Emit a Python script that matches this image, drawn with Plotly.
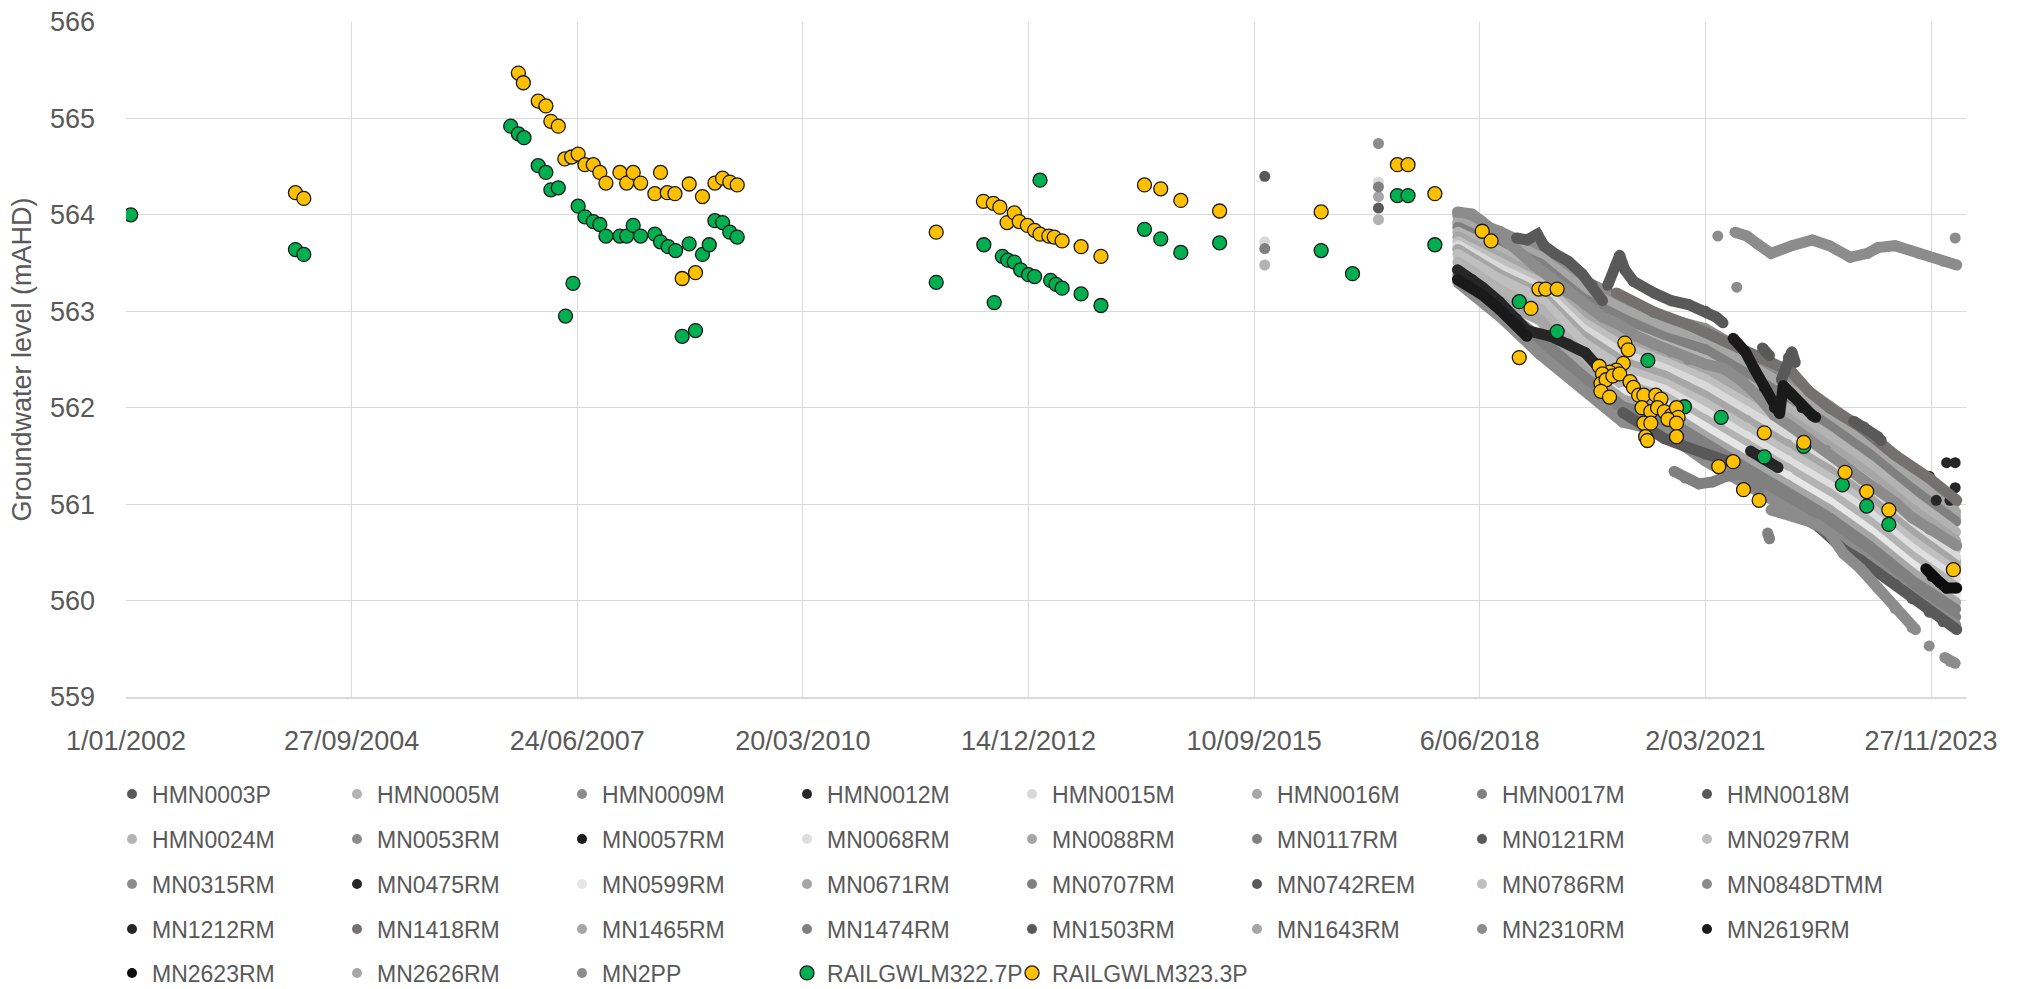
import plotly.graph_objects as go

FONT = "Liberation Sans, Arial, sans-serif"
TXT = "#595959"

# x values are Excel date serials (days since 1899-12-30), as on the original date axis
X_TICKS = [37257, 38257, 39257, 40257, 41257, 42257, 43257, 44257, 45257]
X_TICK_LABELS = ["1/01/2002", "27/09/2004", "24/06/2007", "20/03/2010", "14/12/2012",
                 "10/09/2015", "6/06/2018", "2/03/2021", "27/11/2023"]
Y_TICKS = [559, 560, 561, 562, 563, 564, 565, 566]

SERIES_NAMES = ["HMN0003P", "HMN0005M", "HMN0009M", "HMN0012M", "HMN0015M", "HMN0016M", "HMN0017M", "HMN0018M",
                "HMN0024M", "MN0053RM", "MN0057RM", "MN0068RM", "MN0088RM", "MN0117RM", "MN0121RM", "MN0297RM",
                "MN0315RM", "MN0475RM", "MN0599RM", "MN0671RM", "MN0707RM", "MN0742REM", "MN0786RM", "MN0848DTMM",
                "MN1212RM", "MN1418RM", "MN1465RM", "MN1474RM", "MN1503RM", "MN1643RM", "MN2310RM", "MN2619RM",
                "MN2623RM", "MN2626RM", "MN2PP", "RAILGWLM322.7P", "RAILGWLM323.3P"]

COLORS = {
    "HMN0003P": "#595959", "HMN0005M": "#b3b3b3", "HMN0009M": "#8c8c8c", "HMN0012M": "#262626",
    "HMN0015M": "#d9d9d9", "HMN0016M": "#a6a6a6", "HMN0017M": "#808080", "HMN0018M": "#595959",
    "HMN0024M": "#b3b3b3", "MN0053RM": "#8c8c8c", "MN0057RM": "#1a1a1a", "MN0068RM": "#dedede",
    "MN0088RM": "#a6a6a6", "MN0117RM": "#808080", "MN0121RM": "#595959", "MN0297RM": "#bfbfbf",
    "MN0315RM": "#8c8c8c", "MN0475RM": "#262626", "MN0599RM": "#e6e6e6", "MN0671RM": "#a6a6a6",
    "MN0707RM": "#808080", "MN0742REM": "#595959", "MN0786RM": "#bfbfbf", "MN0848DTMM": "#8c8c8c",
    "MN1212RM": "#262626", "MN1418RM": "#767171", "MN1465RM": "#a6a6a6", "MN1474RM": "#808080",
    "MN1503RM": "#595959", "MN1643RM": "#a6a6a6", "MN2310RM": "#8c8c8c", "MN2619RM": "#1a1a1a",
    "MN2623RM": "#0d0d0d", "MN2626RM": "#a6a6a6", "MN2PP": "#8c8c8c",
    "RAILGWLM322.7P": "#00b050", "RAILGWLM323.3P": "#ffc000",
}

# ---- logger series (dense records shown as bands) ----
LANE_DATES = [43160, 43344, 43525, 43709, 43891, 44075, 44256, 44440, 44621, 44805, 44986, 45170, 45366]
LATE_DATES = [43891, 44075, 44256, 44440, 44621, 44805, 44986, 45170, 45366]

MN0053RM_Y = [563.99, 563.83, 563.63, 563.33, 563.12, 562.93, 562.82, 562.57, 562.32, 562.02, 561.72, 561.37, 561.02]
HMN0016M_Y = [563.93, 563.76, 563.56, 563.24, 563.02, 562.83, 562.71, 562.46, 562.21, 561.92, 561.62, 561.27, 560.92]
MN1465RM_Y = [563.90, 563.72, 563.52, 563.19, 562.97, 562.78, 562.65, 562.40, 562.15, 561.86, 561.56, 561.21, 560.87]
MN0117RM_Y = [563.87, 563.69, 563.49, 563.14, 562.92, 562.73, 562.60, 562.35, 562.10, 561.81, 561.51, 561.16, 560.82]
HMN0005M_Y = [563.82, 563.62, 563.42, 563.05, 562.81, 562.64, 562.49, 562.24, 561.99, 561.70, 561.40, 561.05, 560.71]
MN0088RM_Y = [563.77, 563.55, 563.35, 562.97, 562.72, 562.55, 562.39, 562.14, 561.89, 561.60, 561.30, 560.95, 560.62]
MN0297RM_Y = [563.72, 563.49, 563.29, 562.89, 562.63, 562.47, 562.29, 562.04, 561.79, 561.51, 561.21, 560.86, 560.53]
HMN0015M_Y = [563.68, 563.44, 563.24, 562.82, 562.55, 562.40, 562.21, 561.96, 561.71, 561.43, 561.13, 560.78, 560.45]
MN2626RM_Y = [563.66, 563.41, 563.21, 562.79, 562.51, 562.36, 562.16, 561.91, 561.66, 561.39, 561.09, 560.74, 560.41]
MN0671RM_Y = [563.64, 563.38, 563.18, 562.75, 562.47, 562.33, 562.12, 561.87, 561.62, 561.35, 561.05, 560.70, 560.37]
MN0786RM_Y = [563.59, 563.33, 563.13, 562.68, 562.40, 562.25, 562.04, 561.79, 561.54, 561.27, 560.97, 560.62, 560.30]
MN0068RM_Y = [562.32, 562.18, 561.95, 561.70, 561.45, 561.19, 560.89, 560.54, 560.22]
HMN0024M_Y = [563.51, 563.22, 563.02, 562.55, 562.24, 562.11, 561.87, 561.62, 561.37, 561.11, 560.81, 560.46, 560.14]
MN0599RM_Y = [562.16, 562.04, 561.79, 561.54, 561.29, 561.02, 560.72, 560.37, 560.06]
MN1643RM_Y = [563.43, 563.11, 562.91, 562.41, 562.08, 561.97, 561.70, 561.45, 561.20, 560.94, 560.64, 560.29, 559.98]
HMN0017M_Y = [563.38, 563.06, 562.72, 562.34, 562.01, 561.89, 561.62, 561.37, 561.12, 560.86, 560.56, 560.21, 559.91]
MN1474RM_Y = [563.34, 563.00, 562.63, 562.27, 561.93, 561.82, 561.53, 561.28, 561.03, 560.78, 560.48, 560.13, 559.83]
MN0315RM_Y = [563.30, 562.95, 562.55, 562.20, 561.85, 561.75, 561.45, 561.20, 560.95, 560.70, 560.40, 560.05, 559.75]

# early manual readings of some HMN bores (2015, 2017)
HMN0015M_EARLY_X = [42304, None, 42808, None]
HMN0015M_EARLY_Y = [563.72, None, 564.34, None]
HMN0017M_EARLY_X = [42304, None, 42808, None]
HMN0017M_EARLY_Y = [563.65, None, 564.29, None]
HMN0005M_EARLY_X = [42304, None]
HMN0005M_EARLY_Y = [563.48, None]
HMN0016M_EARLY_X = [42808, None]
HMN0016M_EARLY_Y = [564.19, None]
HMN0024M_EARLY_X = [42808, None]
HMN0024M_EARLY_Y = [563.95, None]

HMN0003P_X = [44762, 44823, 44868, 44945, 45021, 45097, 45173, 45249, 45310, 45371]
HMN0003P_Y = [560.76, 560.64, 560.53, 560.42, 560.29, 560.17, 560.02, 559.88, 559.78, 559.70]

HMN0009M_X = [42808, None, 43158, 43222, 43268, 43344, 43420, 43496, 43573, 43649, 43725, 43801, 43877, 43954,
              44030, 44106, 44182, 44258, 44335, 44411, 44487, 44563, 44640, 44716, 44792, 44868, 44945, 45021,
              45097, 45173, 45249, 45371]
HMN0009M_Y = [564.74, None, 564.03, 564.01, 563.93, 563.80, 563.64, 563.48, 563.35, 563.19, 563.07, 562.94, 562.86,
              562.74, 562.66, 562.58, 562.50, 562.45, 562.41, 562.29, 562.13, 561.92, 561.80, 561.68, 561.56, 561.41,
              561.27, 561.15, 561.02, 560.86, 560.74, 560.57]

HMN0012M_X = [43158, 43222, 43268, 43344, 43420, 43466, 43573, 43649, 43725, 43771, 43815]
HMN0012M_Y = [563.43, 563.33, 563.25, 563.10, 562.92, 562.80, 562.74, 562.66, 562.57, 562.45, 562.38]

MN0057RM_X = [43158, 43205, 43268, 43344, 43420, 43466]
MN0057RM_Y = [563.33, 563.27, 563.17, 563.02, 562.86, 562.74]

HMN0018M_X = [42304, None, 42808, None, 43420, 43466, 43512, 43542, 43588, 43649, 43710, 43755, 43801]
HMN0018M_Y = [564.40, None, 564.07, None, 563.76, 563.74, 563.80, 563.68, 563.60, 563.52, 563.39, 563.27, 563.11]

MN0121RM_X = [43824, 43862, 43877, 43900, 43938, 44030, 44106, 44182, 44258, 44304, 44335]
MN0121RM_Y = [563.27, 563.48, 563.58, 563.43, 563.31, 563.19, 563.11, 563.07, 563.00, 562.94, 562.88]

MN0475RM_X = [44457, 44499, 44538, 44579]
MN0475RM_Y = [561.55, 561.50, 561.44, 561.38]

MN0707RM_X = [44118, 44167, 44228, 44289, 44350, 44411, 44457, 44495, None, 44533, 44541]
MN0707RM_Y = [561.34, 561.27, 561.21, 561.23, 561.29, 561.31, 561.27, 561.15, None, 560.70, 560.64]

MN0742REM_X = [43891, 43983, 44075, 44166, 44256, 44348]
MN0742REM_Y = [561.95, 561.80, 561.68, 561.60, 561.52, 561.45]

MN0848DTMM_X = [44312, None, 44396, None, 44388, 44441, 44487, 44548, 44640, 44731, 44807, 44899, 44975, 45021,
                45097, 45204, 45310, 45371, None, 45364]
MN0848DTMM_Y = [563.78, None, 563.25, None, 563.82, 563.78, 563.70, 563.60, 563.68, 563.74, 563.68, 563.56, 563.60,
                563.66, 563.68, 563.60, 563.52, 563.48, None, 563.76]

MN1212RM_X = [45249, None, 45326, None, 45364, None, 45280, None, 45341, None, 45364]
MN1212RM_Y = [561.29, None, 561.43, None, 561.43, None, 561.04, None, 561.04, None, 561.17]

MN1418RM_X = [43862, 44030, 44182, 44335, 44487, 44640, 44716, 44807, 44945, 45097, 45249, 45371]
MN1418RM_Y = [563.19, 562.99, 562.86, 562.70, 562.54, 562.37, 562.17, 562.00, 561.80, 561.51, 561.27, 561.04]

MN1503RM_X = [44510, 44541, None, 44594, 44609, 44625, 44640, 44655, None, 44914, 44960, 45021, 45036]
MN1503RM_Y = [562.62, 562.54, None, 562.29, 562.37, 562.52, 562.58, 562.47, None, 561.86, 561.80, 561.70, 561.66]

MN2310RM_X = [45249, None, 45318, 45341, 45364]
MN2310RM_Y = [559.53, None, 559.41, 559.37, 559.35]

MN2619RM_X = [44380, 44434, 44472, 44518, 44563, 44586, 44602, 44640, 44685, 44731, 44746]
MN2619RM_Y = [562.72, 562.58, 562.41, 562.21, 562.00, 561.94, 562.23, 562.13, 562.00, 561.92, 561.90]

MN2623RM_X = [45234, 45261, 45295, 45326, 45371, None, 45356]
MN2623RM_Y = [560.33, 560.25, 560.19, 560.13, 560.13, None, 560.31]

MN2PP_X = [44548, 44609, 44685, 44746, 44807, 44868, 44945, 45021, 45097, 45173, 45188]
MN2PP_Y = [560.94, 560.90, 560.86, 560.80, 560.70, 560.49, 560.33, 560.13, 559.92, 559.72, 559.70]

# ---- manual dips (railway monitoring bores) ----
RAIL227_X = [37278, 38008, 38045,
             38962, 38996, 39021, 39084, 39118, 39140, 39173, 39205, 39238, 39261, 39291, 39328, 39357, 39384,
             39446, 39476, 39505, 39538, 39601, 39626, 39660, 39693, 39722, 39753, 39781, 39812, 39842, 39867,
             39901, 39933, 39966,
             40848, 41059, 41105, 41141, 41165, 41194, 41222, 41257, 41284, 41308, 41355, 41379, 41406, 41490,
             41578, 41771, 41843, 41932, 42104, 42554, 42693, 42892, 42939, 43058,
             43432, 43600, 44002, 44164, 44327, 44518, 44693, 44864, 44972, 45070]
RAIL227_Y = [564.00, 563.64, 563.59,
             564.92, 564.84, 564.80, 564.51, 564.44, 564.26, 564.28, 562.95, 563.29, 564.09, 563.98, 563.93, 563.90,
             563.78, 563.78, 563.78, 563.89, 563.78, 563.80, 563.72, 563.67, 563.63, 562.74, 563.70, 562.80, 563.59,
             563.69, 563.94, 563.92, 563.82, 563.77,
             563.30, 563.69, 563.09, 563.57, 563.53, 563.51, 563.43, 563.38, 563.36, 564.36, 563.32, 563.28, 563.24,
             563.18, 563.06, 563.85, 563.75, 563.61, 563.71, 563.63, 563.39, 564.20, 564.20, 563.69,
             563.10, 562.79, 562.49, 562.01, 561.90, 561.49, 561.60, 561.20, 560.98, 560.79]

RAIL233_X = [38008, 38045,
             38996, 39018, 39084, 39118, 39140, 39173, 39202, 39232, 39261, 39291, 39328, 39357, 39384, 39446,
             39476, 39505, 39538, 39601, 39626, 39656, 39690, 39722, 39753, 39781, 39812, 39867, 39901, 39933, 39966,
             40848, 41057, 41101, 41130, 41162, 41194, 41216, 41252, 41284, 41308, 41347, 41371, 41406, 41490,
             41578, 41771, 41843, 41932, 42104, 42554, 42892, 42939, 43058,
             43268, 43307, 43432, 43484, 43519, 43549, 43600,
             43900, 43915, 43893, 43862, 43832, 43786, 43801, 43794, 43817, 43847, 43877, 43794, 43832, 43923,
             43938, 43961, 43984, 43976, 44015, 43984, 44015, 43992, 44000, 44037, 44060, 44045, 44075, 44106,
             44129, 44136, 44091, 44129, 44129,
             44316, 44380, 44426, 44495, 44518, 44693, 44876, 44972, 45070, 45356]
RAIL233_Y = [564.23, 564.17,
             565.47, 565.37, 565.18, 565.13, 564.97, 564.92, 564.58, 564.60, 564.63, 564.52, 564.52, 564.44, 564.33,
             564.44, 564.33, 564.44, 564.33, 564.22, 564.44, 564.23, 564.22, 563.34, 564.32, 563.40, 564.19, 564.33,
             564.38, 564.34, 564.31,
             563.82, 564.14, 564.12, 564.08, 563.92, 564.02, 563.93, 563.89, 563.84, 563.80, 563.78, 563.77, 563.73,
             563.67, 563.57, 564.31, 564.27, 564.15, 564.04, 564.03, 564.52, 564.52, 564.22,
             563.83, 563.73, 562.52, 563.03, 563.23, 563.23, 563.23,
             562.67, 562.60, 562.46, 562.39, 562.37, 562.43, 562.35, 562.25, 562.29, 562.33, 562.35, 562.17, 562.11,
             562.27, 562.21, 562.13, 562.13, 562.00, 561.96, 561.84, 561.84, 561.70, 561.66, 562.13, 562.09, 562.00,
             561.96, 561.92, 562.00, 561.90, 561.88, 561.84, 561.70,
             561.39, 561.44, 561.15, 561.04, 561.74, 561.64, 561.33, 561.13, 560.94, 560.32]

GENERIC = [
    ("MN1465RM", LANE_DATES, MN1465RM_Y),
    ("MN0053RM", LANE_DATES, MN0053RM_Y),
    ("HMN0016M", HMN0016M_EARLY_X + LANE_DATES, HMN0016M_EARLY_Y + HMN0016M_Y),
    ("MN0117RM", LANE_DATES, MN0117RM_Y),
    ("HMN0005M", HMN0005M_EARLY_X + LANE_DATES, HMN0005M_EARLY_Y + HMN0005M_Y),
    ("MN0088RM", LANE_DATES, MN0088RM_Y),
    ("MN0297RM", LANE_DATES, MN0297RM_Y),
    ("MN2626RM", LANE_DATES, MN2626RM_Y),
    ("HMN0015M", HMN0015M_EARLY_X + LANE_DATES, HMN0015M_EARLY_Y + HMN0015M_Y),
    ("MN0671RM", LANE_DATES, MN0671RM_Y),
    ("MN0786RM", LANE_DATES, MN0786RM_Y),
    ("MN0068RM", LATE_DATES, MN0068RM_Y),
    ("HMN0024M", HMN0024M_EARLY_X + LANE_DATES, HMN0024M_EARLY_Y + HMN0024M_Y),
    ("MN0599RM", LATE_DATES, MN0599RM_Y),
    ("MN1643RM", LANE_DATES, MN1643RM_Y),
    ("HMN0017M", HMN0017M_EARLY_X + LANE_DATES, HMN0017M_EARLY_Y + HMN0017M_Y),
    ("MN1474RM", LANE_DATES, MN1474RM_Y),
    ("MN0315RM", LANE_DATES, MN0315RM_Y),
]
SPECIAL = [
    ("HMN0003P", HMN0003P_X, HMN0003P_Y),
    ("HMN0009M", HMN0009M_X, HMN0009M_Y),
    ("HMN0012M", HMN0012M_X, HMN0012M_Y),
    ("HMN0018M", HMN0018M_X, HMN0018M_Y),
    ("MN0057RM", MN0057RM_X, MN0057RM_Y),
    ("MN0121RM", MN0121RM_X, MN0121RM_Y),
    ("MN0475RM", MN0475RM_X, MN0475RM_Y),
    ("MN0707RM", MN0707RM_X, MN0707RM_Y),
    ("MN0742REM", MN0742REM_X, MN0742REM_Y),
    ("MN0848DTMM", MN0848DTMM_X, MN0848DTMM_Y),
    ("MN1212RM", MN1212RM_X, MN1212RM_Y),
    ("MN1418RM", MN1418RM_X, MN1418RM_Y),
    ("MN1503RM", MN1503RM_X, MN1503RM_Y),
    ("MN2310RM", MN2310RM_X, MN2310RM_Y),
    ("MN2619RM", MN2619RM_X, MN2619RM_Y),
    ("MN2623RM", MN2623RM_X, MN2623RM_Y),
    ("MN2PP", MN2PP_X, MN2PP_Y),
]

BAND = 11
# legend row centres (paper coordinates, below the plot area)
LEG_ROWS_Y = [-0.1437, -0.2104, -0.2770, -0.3437, -0.4089]


def legend_key(i):
    row = i // 8
    return "legend" if row == 0 else "legend%d" % (row + 1)


fig = go.Figure()

for name, xs, ys in GENERIC + SPECIAL:
    c = COLORS[name]
    fig.add_trace(go.Scatter(x=xs, y=ys, mode="lines+markers", connectgaps=False,
                             line=dict(color=c, width=BAND), marker=dict(color=c, size=BAND),
                             showlegend=False, hoverinfo="skip", name=name))

# legend entries (marker only, as in the original legend)
for i, name in enumerate(SERIES_NAMES[:35]):
    fig.add_trace(go.Scatter(x=[None], y=[None], mode="markers", name=name,
                             marker=dict(color=COLORS[name], size=10),
                             legend=legend_key(i), showlegend=True))

for i, (name, xs, ys) in enumerate([("RAILGWLM322.7P", RAIL227_X, RAIL227_Y),
                                     ("RAILGWLM323.3P", RAIL233_X, RAIL233_Y)]):
    extra = {"legendwidth": 240} if i == 1 else {}
    fig.add_trace(go.Scatter(x=xs, y=ys, mode="markers", name=name,
                             marker=dict(color=COLORS[name], size=14, line=dict(color="#1a1a1a", width=1.3)),
                             legend=legend_key(35 + i), showlegend=True, **extra))

leg_common = dict(orientation="h", x=-0.0076, xanchor="left", yanchor="middle",
                  font=dict(family=FONT, size=23, color=TXT), entrywidth=180, entrywidthmode="pixels",
                  itemwidth=30, bgcolor="rgba(0,0,0,0)", borderwidth=0, tracegroupgap=0)
legends = {}
for r, yv in enumerate(LEG_ROWS_Y):
    key = "legend" if r == 0 else "legend%d" % (r + 1)
    legends[key] = dict(leg_common, y=yv)

fig.update_layout(
    width=2030, height=989,
    margin=dict(l=126, r=64, t=22, b=292, autoexpand=False),
    paper_bgcolor="white", plot_bgcolor="white",
    font=dict(family=FONT, color=TXT),
    xaxis=dict(range=[37257, 45412], tickmode="array", tickvals=X_TICKS, ticktext=X_TICK_LABELS,
               showgrid=True, gridcolor="#d9d9d9", gridwidth=1.3, zeroline=False,
               showline=True, linecolor="#d9d9d9", linewidth=1.5, ticks="",
               ticklabelstandoff=19, tickfont=dict(family=FONT, size=27, color=TXT)),
    yaxis=dict(range=[559, 566], tickmode="array", tickvals=Y_TICKS,
               showgrid=True, gridcolor="#d9d9d9", gridwidth=1.3, zeroline=False,
               showline=False, ticks="", ticklabelstandoff=30,
               tickfont=dict(family=FONT, size=27, color=TXT),
               title=dict(text="Groundwater level (mAHD)", standoff=10,
                          font=dict(family=FONT, size=27, color=TXT))),
    showlegend=True,
    **legends,
)

fig.write_html("out.html", config={"displayModeBar": False},
               post_script="document.body.style.margin='0';document.body.style.overflow='hidden';")
